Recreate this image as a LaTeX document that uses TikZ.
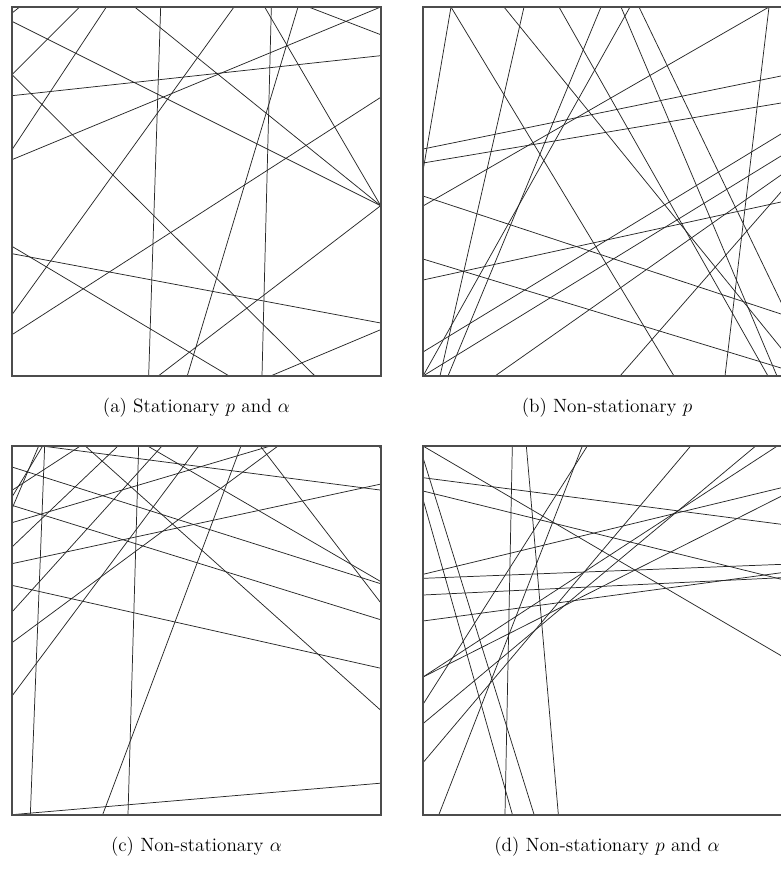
\documentclass[tikz,border=0pt]{standalone}
\tikzset{
  rl/.style={draw=black!85, line width=0.55pt, shorten <=-4pt, shorten >=-4pt},
  frame/.style={draw=black!70, line width=0.9pt},
  captext/.style={anchor=base, inner sep=0pt, font=\fontsize{14.4}{17}\selectfont}
}
\begin{document}
\begin{tikzpicture}[x=0.75pt,y=-0.75pt]
\useasboundingbox (0,0) rectangle (781,876);
\clip (0,0) rectangle (781,876);
\fill[white] (0,0) rectangle (781,876);

% ---------------- panel (a)
\begin{scope}
\clip (12,7) rectangle (381,376);
\begin{scope}[shift={(4.67,-0.33)}, x=0.25pt, y=-0.25pt]
 \draw[rl] (225,22) -- (22,225);
 \draw[rl] (22,225) -- (930,1128);
 \draw[rl] (305,22) -- (22,450);
 \draw[rl] (390,22) -- (1128,618);
 \draw[rl] (468,22) -- (432,1128);
 \draw[rl] (688,22) -- (22,945);
 \draw[rl] (780,22) -- (1128,618);
 \draw[rl] (800,22) -- (772,1128);
 \draw[rl] (880,22) -- (548,1128);
 \draw[rl] (912,22) -- (1128,105);
 \draw[rl] (1128,22) -- (22,480);
 \draw[rl] (1128,168) -- (22,288);
 \draw[rl] (1128,293) -- (22,1005);
 \draw[rl] (22,40) -- (45,22);
 \draw[rl] (22,65) -- (1128,618);
 \draw[rl] (22,740) -- (672,1128);
 \draw[rl] (22,762) -- (1128,970);
 \draw[rl] (1128,990) -- (800,1128);
 \draw[rl] (1128,618) -- (462,1128);
\end{scope}
\end{scope}
\draw[frame] (12,7) rectangle (381,376);

% ---------------- panel (b)
\begin{scope}
\clip (423,7) rectangle (792,376);
 \draw[rl] (451,7) -- (423,171);
 \draw[rl] (451,7) -- (674,376);
 \draw[rl] (504,7) -- (781,348);
 \draw[rl] (524,7) -- (440,376);
 \draw[rl] (559,7) -- (768,376);
 \draw[rl] (601,7) -- (448,376);
 \draw[rl] (621,7) -- (777,376);
 \draw[rl] (630,7) -- (423,376);
 \draw[rl] (639,7) -- (781,302);
 \draw[rl] (769,7) -- (725,376);
 \draw[rl] (769,7) -- (423,206);
 \draw[rl] (423,149) -- (781,76);
 \draw[rl] (423,163) -- (781,103);
 \draw[rl] (423,196) -- (781,314);
 \draw[rl] (423,259) -- (781,368);
 \draw[rl] (423,280) -- (781,202);
 \draw[rl] (423,352) -- (781,134);
 \draw[rl] (423,376) -- (781,156);
 \draw[rl] (495,376) -- (781,175);
 \draw[rl] (620,376) -- (781,192);
\end{scope}
\draw[frame] (423,7) rectangle (792,376);

% ---------------- panel (c)
\begin{scope}
\clip (12,446) rectangle (381,815);
\begin{scope}[shift={(5.33,438.67)}, x=0.25pt, y=-0.25pt]
 \draw[rl] (118,22) -- (75,1128);
 \draw[rl] (400,22) -- (368,1128);
 \draw[rl] (707,22) -- (292,1128);
 \draw[rl] (20,1128) -- (1132,1033);
 \draw[rl] (20,440) -- (1132,690);
 \draw[rl] (240,22) -- (1132,820);
 \draw[rl] (765,22) -- (1132,500);
 \draw[rl] (20,375) -- (1132,135);
 \draw[rl] (110,22) -- (1132,155);
 \draw[rl] (427,22) -- (1132,432);
 \draw[rl] (20,200) -- (1132,545);
 \draw[rl] (20,85) -- (1132,437);
 \draw[rl] (100,22) -- (20,210);
 \draw[rl] (112,22) -- (20,175);
 \draw[rl] (225,22) -- (20,155);
 \draw[rl] (818,22) -- (20,612);
 \draw[rl] (580,22) -- (20,772);
 \draw[rl] (470,22) -- (20,520);
 \draw[rl] (338,22) -- (20,325);
 \draw[rl] (795,22) -- (20,252);
 \draw[rl] (1120,22) -- (1132,38);
\end{scope}
\end{scope}
\draw[frame] (12,446) rectangle (381,815);

% ---------------- panel (d)
\begin{scope}
\clip (423,446) rectangle (792,815);
\begin{scope}[shift={(415.67,437.67)}, x=0.25pt, y=-0.25pt]
 \draw[rl] (290,25) -- (268,1130);
 \draw[rl] (332,25) -- (428,1130);
 \draw[rl] (22,25) -- (1098,655);
 \draw[rl] (22,60) -- (355,1130);
 \draw[rl] (22,120) -- (1098,260);
 \draw[rl] (22,160) -- (1098,425);
 \draw[rl] (22,410) -- (1098,150);
 \draw[rl] (22,422) -- (1098,380);
 \draw[rl] (22,472) -- (1098,420);
 \draw[rl] (22,550) -- (1098,405);
 \draw[rl] (22,718) -- (1085,25);
 \draw[rl] (22,718) -- (1098,175);
 \draw[rl] (22,800) -- (515,25);
 \draw[rl] (22,858) -- (1020,25);
 \draw[rl] (22,975) -- (825,25);
 \draw[rl] (70,1130) -- (500,25);
 \draw[rl] (22,185) -- (290,1130);
\end{scope}
\end{scope}
\draw[frame] (423,446) rectangle (792,815);

% ---------------- captions
\node[captext] (capa) at (196.5,412) {(a) Stationary $p$ and $\alpha$};
\node[captext] (capb) at (607,412) {(b) Non-stationary $p$};
\node[captext] (capc) at (196.5,851) {(c) Non-stationary $\alpha$};
\node[captext] (capd) at (607,851) {(d) Non-stationary $p$ and $\alpha$};
\end{tikzpicture}
\end{document}
